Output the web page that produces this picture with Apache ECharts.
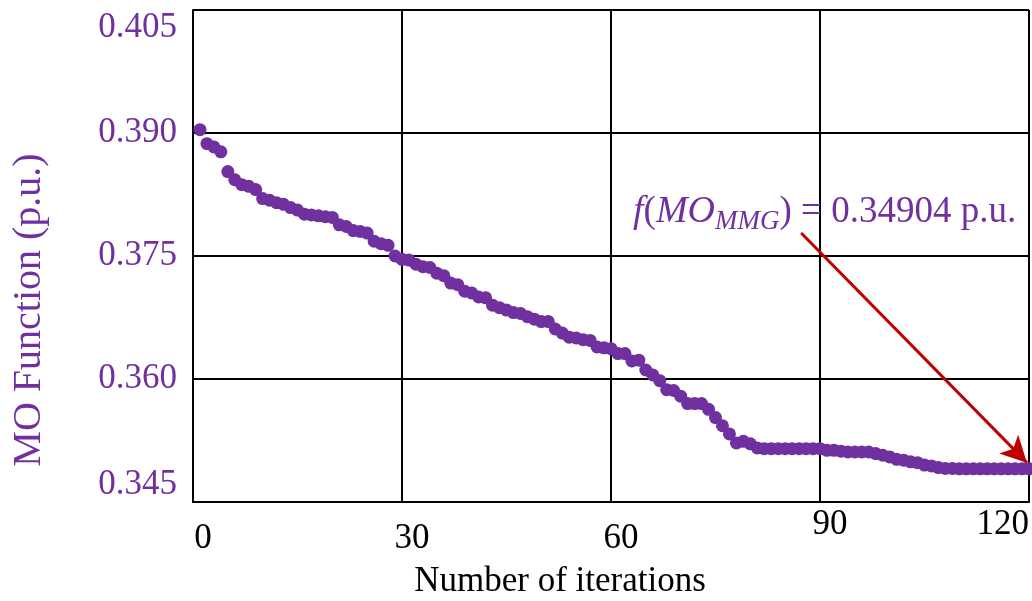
<!DOCTYPE html>
<html>
<head>
<meta charset="utf-8">
<title>MO Function convergence</title>
<script src="https://cdn.jsdelivr.net/npm/echarts@6/dist/echarts.min.js"></script>
<style>
  html, body { margin: 0; padding: 0; background: #fff; }
  #container { width: 1032px; height: 601px; }
</style>
</head>
<body>
<div id="container"></div>
<script>
  // iterations 1..120
  const iterations = []
  for (let i = 1; i <= 120; i++) iterations.push(i)

  // MO function value per iteration (p.u.)
  const moValues = [
    0.3904, 0.3887, 0.3883, 0.3877, 0.3853, 0.3843, 0.3837, 0.3835, 0.3831, 0.3820,
    0.3818, 0.3815, 0.3813, 0.3809, 0.3806, 0.3801, 0.3800, 0.3799, 0.3798, 0.3797,
    0.3788, 0.3786, 0.3781, 0.3780, 0.3778, 0.3768, 0.3765, 0.3763, 0.3750, 0.3746,
    0.3745, 0.3740, 0.3737, 0.3736, 0.3729, 0.3726, 0.3717, 0.3715, 0.3707, 0.3705,
    0.3700, 0.3699, 0.3690, 0.3687, 0.3684, 0.3681, 0.3680, 0.3676, 0.3673, 0.3670,
    0.3670, 0.3661, 0.3656, 0.3651, 0.3650, 0.3648, 0.3647, 0.3639, 0.3638, 0.3637,
    0.3631, 0.3631, 0.3622, 0.3623, 0.3611, 0.3605, 0.3598, 0.3587, 0.3586, 0.3579,
    0.3570, 0.3570, 0.3570, 0.3563, 0.3553, 0.3543, 0.3533, 0.3522, 0.3524, 0.3521,
    0.3516, 0.3515, 0.3515, 0.3515, 0.3515, 0.3515, 0.3515, 0.3515, 0.3515, 0.3515,
    0.3513, 0.3513, 0.3512, 0.3511, 0.3511, 0.3511, 0.3511, 0.3509, 0.3507, 0.3505,
    0.3502, 0.3501, 0.3499, 0.3498, 0.3495, 0.3494, 0.3492, 0.3491, 0.3491, 0.34905,
    0.34905, 0.34905, 0.34905, 0.34904, 0.34904, 0.34904, 0.34904, 0.34904, 0.34904, 0.34904
  ]

  const xTickLabels = ['0', '30', '60', '90', '120']
  const yTickLabels = ['0.345', '0.360', '0.375', '0.390', '0.405']

  // arrow from the note down to the final value
  const arrowFrom = [87.3, 0.3778]
  const arrowTo = [119.7, 0.3498]

  const purple = '#7030a0'
  const serif = 'Liberation Serif'

  const chart = echarts.init(document.getElementById('container'))

  const option = {
    animation: false,
    grid: { left: 193, right: 3, top: 10, bottom: 99, containLabel: false },
    xAxis: {
      type: 'value',
      min: 0,
      max: 120,
      interval: 30,
      axisLine: { show: true, lineStyle: { color: '#000', width: 2 } },
      axisTick: { show: false },
      splitLine: { show: true, lineStyle: { color: '#000', width: 2 } },
      axisLabel: {
        margin: 5,
        align: 'center',
        alignMinLabel: 'center',
        alignMaxLabel: 'right',
        formatter: (v) => {
          const s = xTickLabels[Math.round(v / 30)]
          return v >= 90 ? '{b|' + s + '}' : '{a|' + s + '}'
        },
        rich: {
          a: { fontFamily: serif, fontSize: 35, color: '#000', padding: [14, 0, 0, 20] },
          b: { fontFamily: serif, fontSize: 35, color: '#000', padding: [0, 0, 0, 20] }
        }
      }
    },
    yAxis: {
      type: 'value',
      min: 0.345,
      max: 0.405,
      interval: 0.015,
      axisLine: { show: true, lineStyle: { color: '#000', width: 2 } },
      axisTick: { show: false },
      splitLine: { show: true, lineStyle: { color: '#000', width: 2 } },
      axisLabel: {
        margin: 16,
        color: purple,
        fontFamily: serif,
        fontSize: 35,
        verticalAlignMinLabel: 'bottom',
        verticalAlignMaxLabel: 'top',
        formatter: (v) => yTickLabels[Math.round((v - 0.345) / 0.015)]
      }
    },
    graphic: [
      {
        type: 'text',
        x: 29,
        y: 310,
        rotation: Math.PI / 2,
        style: {
          text: 'MO Function (p.u.)',
          fill: purple,
          font: '40px "Liberation Serif"',
          textAlign: 'center',
          textVerticalAlign: 'middle'
        }
      },
      {
        type: 'text',
        x: 560,
        y: 582,
        style: {
          text: 'Number of iterations',
          fill: '#000',
          font: '35px "Liberation Serif"',
          textAlign: 'center',
          textVerticalAlign: 'middle'
        }
      },
      {
        type: 'text',
        x: 633,
        y: 212,
        z: 10,
        style: {
          text: '{i|f}{n|(}{i|MO}{s|MMG}{n|) = 0.34904 p.u.}',
          textVerticalAlign: 'middle',
          rich: {
            i: { fontFamily: serif, fontStyle: 'italic', fontSize: 38, fill: purple, lineHeight: 46, verticalAlign: 'middle' },
            n: { fontFamily: serif, fontSize: 37, fill: purple, lineHeight: 46, verticalAlign: 'middle' },
            s: { fontFamily: serif, fontStyle: 'italic', fontSize: 27, fill: purple, lineHeight: 46, verticalAlign: 'bottom' }
          }
        }
      }
    ],
    series: [
      {
        type: 'scatter',
        symbol: 'circle',
        symbolSize: 13,
        itemStyle: { color: purple, opacity: 1 },
        data: iterations.map((it, k) => [it, moValues[k]]),
        markLine: {
          silent: true,
          symbol: ['none', 'arrow'],
          symbolSize: [20, 26],
          label: { show: false },
          lineStyle: { color: '#c00000', width: 3, type: 'solid' },
          data: [[{ coord: arrowFrom }, { coord: arrowTo }]]
        }
      }
    ]
  }

  option && chart.setOption(option)
</script>
</body>
</html>
